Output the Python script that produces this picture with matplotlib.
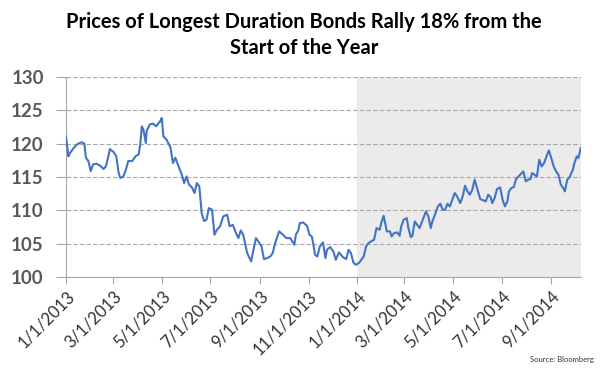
import pandas as pd
import matplotlib.pyplot as plt
import matplotlib.dates as mdates

# days since 1/1/2013 and price
days = [0, 3, 5, 10, 14, 17, 20, 23, 25, 28, 31, 34, 38, 43, 47, 50, 53, 55, 60, 63,
        66, 68, 72, 75, 78, 83, 87, 91, 93, 95, 97, 100, 101, 105, 109, 113, 116, 118, 120, 122,
        126, 131, 134, 137, 141, 145, 148, 151, 154, 158, 161, 164, 167, 170, 173, 176, 179, 183, 186, 189,
        193, 197, 202, 205, 209, 213, 216, 219, 222, 227, 232, 234, 238, 241, 245, 248, 252, 256, 259, 262,
        267, 272, 276, 281, 286, 288, 291, 293, 297, 302, 305, 308, 310, 312, 315, 318, 322, 325, 327, 331,
        335, 338, 342, 347, 351, 354, 357, 360, 363, 367, 370, 373, 376, 379, 382, 386, 389, 393, 395, 398,
        402, 406, 408, 411, 415, 418, 420, 423, 427, 429, 432, 434, 437, 440, 443, 447, 451, 454, 457, 459,
        463, 466, 469, 472, 475, 478, 481, 484, 487, 490, 494, 497, 500, 503, 506, 509, 512, 515, 519, 523,
        526, 529, 532, 534, 537, 540, 544, 547, 550, 553, 555, 558, 561, 564, 567, 569, 573, 576, 579, 582,
        584, 587, 590, 593, 596, 599, 602, 605, 608, 611, 614, 617, 620, 623, 625, 628, 631, 635, 637, 640,
        642, 645]
price = [121.1, 118.1, 118.6, 119.4, 119.9, 120.1, 120.2, 120.0, 117.9, 117.4, 115.9, 116.9, 117.0, 116.7, 116.2, 116.6, 118.1, 119.2, 118.7, 118.1,
         115.6, 114.85, 115.1, 116.1, 117.4, 117.4, 118.1, 118.4, 119.9, 122.6, 122.1, 120.1, 121.9, 122.9, 123.0, 122.6, 123.1, 123.35, 123.85, 121.1,
         120.6, 119.4, 117.1, 117.9, 116.6, 115.4, 114.1, 115.1, 113.9, 113.4, 112.6, 114.1, 113.6, 109.6, 108.4, 108.6, 110.35, 110.1, 106.35, 107.1,
         107.6, 109.1, 109.35, 107.6, 107.85, 106.6, 105.85, 107.0, 106.35, 103.6, 102.35, 103.6, 105.85, 105.35, 104.6, 102.7, 102.85, 103.1, 103.6, 105.1,
         106.85, 106.35, 105.85, 105.85, 104.85, 106.35, 107.0, 108.1, 108.2, 107.7, 106.35, 106.1, 104.85, 103.35, 103.1, 104.6, 105.2, 102.85, 104.1, 104.5,
         103.85, 102.6, 103.7, 103.0, 102.7, 104.1, 103.6, 102.2, 101.85, 102.1, 102.6, 103.1, 104.6, 105.1, 105.35, 105.6, 107.35, 107.1, 108.1, 109.2,
         106.85, 106.85, 106.1, 106.6, 106.7, 106.2, 107.6, 108.6, 108.85, 107.35, 106.0, 106.2, 108.35, 107.85, 107.35, 108.6, 109.85, 109.1, 107.35, 108.35,
         109.6, 110.6, 111.0, 110.1, 110.1, 111.0, 110.6, 111.6, 112.6, 112.1, 111.1, 112.1, 113.7, 112.85, 112.35, 113.1, 114.6, 113.35, 111.7, 111.5,
         111.35, 112.35, 112.0, 111.1, 111.85, 113.2, 113.45, 111.6, 110.6, 111.35, 112.85, 113.35, 113.5, 114.7, 115.1, 115.35, 115.85, 114.35, 114.6, 114.7,
         115.6, 115.35, 115.1, 117.6, 116.6, 117.1, 118.1, 119.0, 117.85, 116.6, 115.85, 115.35, 113.85, 113.35, 112.85, 114.6, 115.0, 116.1, 117.1, 118.1,
         117.85, 119.35]

start = pd.Timestamp('2013-01-01')
dates = start + pd.to_timedelta(days, unit='D')
shade_from = pd.Timestamp('2014-01-01')

plt.rcParams['font.family'] = ['Lato', 'DejaVu Sans']

fig = plt.figure(figsize=(6, 3.7), dpi=100)
ax = fig.add_axes([0.11, 0.251, 0.858, 0.541])

# 2014 region shaded grey
ax.axvspan(shade_from, dates[-1], color='#EBEBEB', zorder=0, lw=0)
ax.plot(dates, price, color='#4472C4', lw=1.5, zorder=3)

ax.set_xlim(start, dates[-1])
ax.set_ylim(100, 130)
ax.set_yticks(range(100, 131, 5))
ax.yaxis.grid(True, linestyle=(0, (4, 2)), color='#A6A6A6', lw=0.8, zorder=1)
ax.set_axisbelow(True)

ax.xaxis.set_major_locator(mdates.MonthLocator(bymonth=[1, 3, 5, 7, 9, 11]))
ax.xaxis.set_major_formatter(plt.FuncFormatter(
    lambda v, p: '{d.month}/{d.day}/{d.year}'.format(d=mdates.num2date(v))))
plt.setp(ax.get_xticklabels(), rotation=45, ha='right', rotation_mode='anchor',
         fontsize=12, color='#333333')
plt.setp(ax.get_yticklabels(), fontsize=13.5, fontweight='bold', color='#595959')
ax.tick_params(axis='x', length=5, color='#A6A6A6', pad=3)
ax.tick_params(axis='y', length=7, color='#A6A6A6', pad=9)

for s in ['top', 'right']:
    ax.spines[s].set_visible(False)
for s in ['left', 'bottom']:
    ax.spines[s].set_color('#A6A6A6')

fig.text(0.507, 0.905, 'Prices of Longest Duration Bonds Rally 18% from the\nStart of the Year',
         ha='center', va='center', fontsize=14.5, fontweight='bold', linespacing=1.4)
fig.text(0.99, 0.02, 'Source: Bloomberg', ha='right', va='bottom', fontsize=5.5, color='#333333')

plt.savefig('out.png', dpi=100)
